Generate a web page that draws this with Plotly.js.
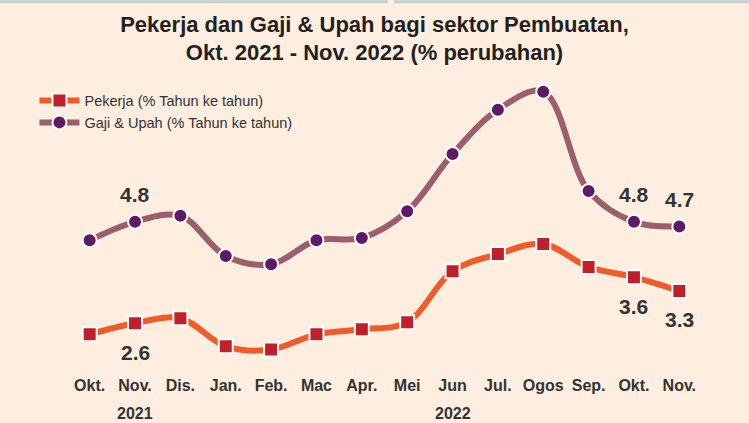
<!DOCTYPE html>
<html>
<head>
<meta charset="utf-8">
<script src="https://cdn.plot.ly/plotly-3.0.1.min.js"></script>
<style>html,body{margin:0;padding:0;background:#fdeee0;}#chart{width:749px;height:423px;}</style>
</head>
<body>
<div id="chart"></div>
<script>
const months = ["Okt.", "Nov.", "Dis.", "Jan.", "Feb.", "Mac", "Apr.", "Mei", "Jun", "Jul.", "Ogos", "Sep.", "Okt.", "Nov."];
const pekerja = [2.36, 2.6, 2.71, 2.10, 2.03, 2.36, 2.47, 2.62, 3.73, 4.10, 4.32, 3.82, 3.6, 3.3];
const gaji = [4.40, 4.8, 4.93, 4.06, 3.88, 4.40, 4.45, 5.03, 6.27, 7.23, 7.62, 5.47, 4.8, 4.7];
const pekerjaLabels = ["", "2.6", "", "", "", "", "", "", "", "", "", "", "3.6", "3.3"];
const gajiLabels = ["", "4.8", "", "", "", "", "", "", "", "", "", "", "4.8", "4.7"];
const years = [{label: "2021", at: 1}, {label: "2022", at: 8}];

const idx = months.map((m, i) => i);

const traces = [
  {
    x: idx, y: pekerja, name: "Pekerja (% Tahun ke tahun)",
    type: "scatter", mode: "lines+markers",
    line: {color: "#f15a29", width: 6, shape: "spline", smoothing: 1},
    marker: {symbol: "square", size: 14, color: "#c1202b", line: {color: "#ffffff", width: 2}}
  },
  {
    x: idx, y: gaji, name: "Gaji & Upah (% Tahun ke tahun)",
    type: "scatter", mode: "lines+markers",
    line: {color: "#9a5e6d", width: 6, shape: "spline", smoothing: 1},
    marker: {symbol: "circle", size: 14, color: "#5e1a65", line: {color: "#ffffff", width: 2}}
  }
];

const labelFont = {family: "Liberation Sans, Arial, sans-serif", size: 21, color: "#333333"};
const annotations = [];
idx.forEach(i => {
  if (gajiLabels[i]) annotations.push({x: i, y: gaji[i], xref: "x", yref: "y", text: "<b>" + gajiLabels[i] + "</b>", showarrow: false, yshift: 27, font: labelFont});
  if (pekerjaLabels[i]) annotations.push({x: i, y: pekerja[i], xref: "x", yref: "y", text: "<b>" + pekerjaLabels[i] + "</b>", showarrow: false, yshift: -29, font: labelFont});
});
years.forEach(yr => {
  annotations.push({x: yr.at, y: 0, xref: "x", yref: "paper", yanchor: "middle", yshift: -39, text: "<b>" + yr.label + "</b>", showarrow: false,
    font: {family: "Liberation Sans, Arial, sans-serif", size: 16, color: "#333333"}});
});

const layout = {
  width: 749, height: 423,
  paper_bgcolor: "#fdeee0", plot_bgcolor: "#fdeee0",
  margin: {l: 67, r: 47, t: 65, b: 49, autoexpand: false},
  title: {
    text: "<b>Pekerja dan Gaji & Upah bagi sektor Pembuatan,<br>Okt. 2021 - Nov. 2022 (% perubahan)</b>",
    x: 0.5, xref: "container", y: 0.925, yref: "container", yanchor: "top",
    font: {family: "Liberation Sans, Arial, sans-serif", size: 22, color: "#231f20"}
  },
  showlegend: true,
  legend: {
    xref: "container", yref: "container", x: 0.046, y: 0.80, xanchor: "left", yanchor: "top",
    bgcolor: "rgba(0,0,0,0)", tracegroupgap: 0, itemwidth: 40,
    font: {family: "Liberation Sans, Arial, sans-serif", size: 14.5, color: "#333333"}
  },
  xaxis: {
    range: [-0.5, 13.5], tickmode: "array", tickvals: idx, ticktext: months.map(m => "<b>" + m + "</b>"),
    showgrid: false, zeroline: false, showline: false, ticks: "", tickangle: 0,
    tickfont: {family: "Liberation Sans, Arial, sans-serif", size: 16, color: "#333333"},
    fixedrange: true
  },
  yaxis: {
    range: [1.5, 8.2], showgrid: false, zeroline: false, showline: false, showticklabels: false, ticks: "", fixedrange: true
  },
  annotations: annotations,
  shapes: [
    {type: "line", xref: "paper", yref: "paper", x0: -0.11, x1: 0.505, y0: 1.205, y1: 1.205, line: {color: "#c3cfd3", width: 3}},
    {type: "line", xref: "paper", yref: "paper", x0: 0.515, x1: 1.08, y0: 1.205, y1: 1.205, line: {color: "#c3cfd3", width: 3}}
  ]
};

Plotly.newPlot("chart", traces, layout, {displayModeBar: false, staticPlot: true});
</script>
</body>
</html>
